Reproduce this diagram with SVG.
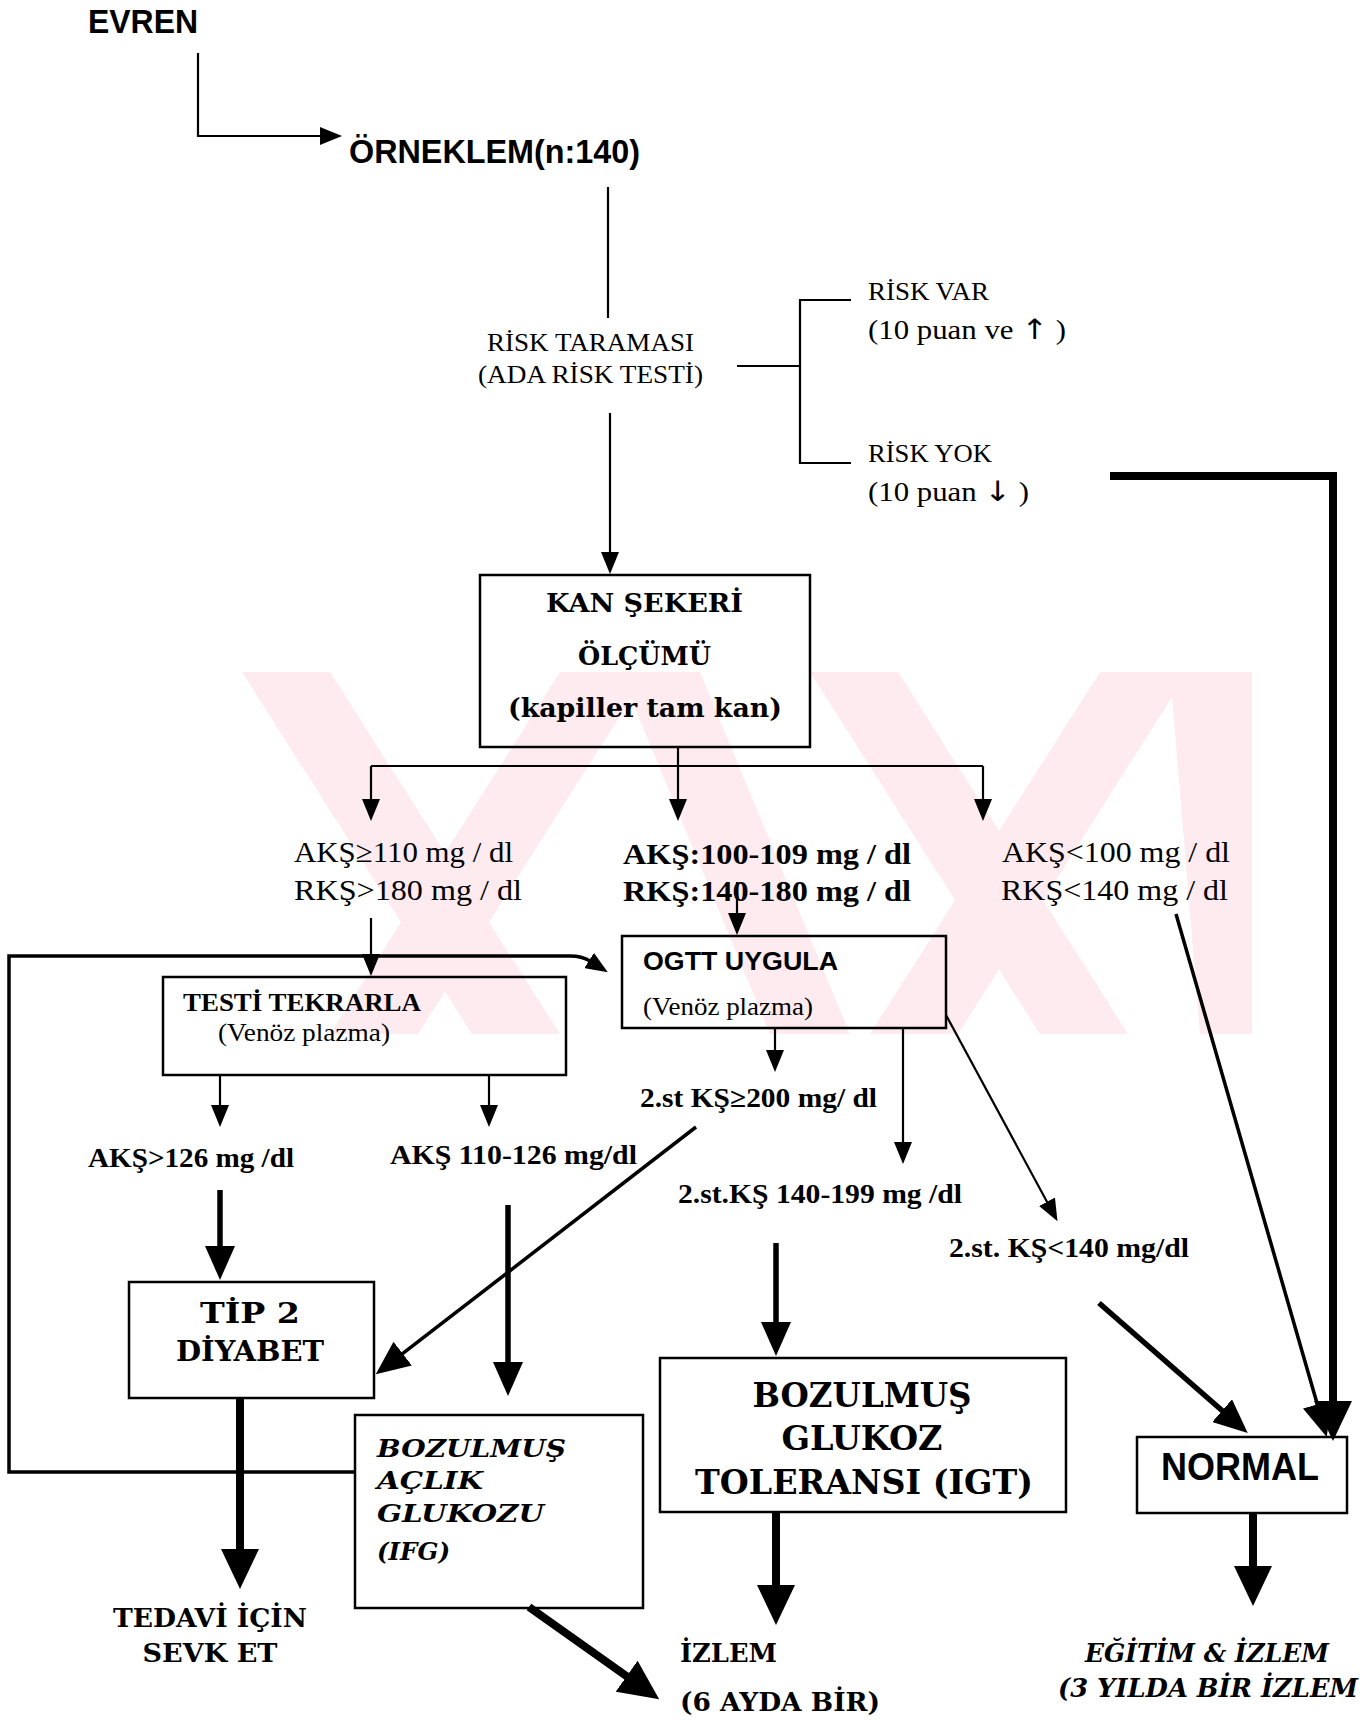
<svg xmlns="http://www.w3.org/2000/svg" width="1369" height="1723" viewBox="0 0 1369 1723">
<style>
.box{fill:none;stroke:#000;stroke-width:2.5}
.ln{fill:none;stroke:#000;stroke-width:2.2}
.lm{fill:none;stroke:#000;stroke-width:3.5}
.lt{fill:none;stroke:#000;stroke-width:5.5}
.lb{fill:none;stroke:#000;stroke-width:8}
text{fill:#000}
.sans{font-family:"Liberation Sans",Arial,sans-serif;font-weight:bold}
.tr{font-family:"Liberation Serif","Times New Roman",serif}
.trb{font-family:"Liberation Serif","Times New Roman",serif;font-weight:bold}
.hv{font-family:"DejaVu Serif",serif;font-weight:bold}
.hvi{font-family:"DejaVu Serif",serif;font-weight:bold;font-style:italic}
.arr{font-family:"DejaVu Sans",sans-serif;font-weight:normal}
.wm{fill:#fdebef}
</style>
<defs>
<marker id="aT" viewBox="0 0 22 18" refX="1" refY="9" markerWidth="22" markerHeight="18" markerUnits="userSpaceOnUse" orient="auto"><path d="M0,0 L22,9 L0,18 z"/></marker>
<marker id="aM" viewBox="0 0 34 30" refX="1" refY="15" markerWidth="34" markerHeight="30" markerUnits="userSpaceOnUse" orient="auto"><path d="M0,0 L34,15 L0,30 z"/></marker>
<marker id="aB" viewBox="0 0 40 38" refX="1" refY="19" markerWidth="40" markerHeight="38" markerUnits="userSpaceOnUse" orient="auto"><path d="M0,0 L40,19 L0,38 z"/></marker>
<clipPath id="wmc"><rect x="242" y="672" width="1010" height="362"/></clipPath>
</defs>
<rect width="1369" height="1723" fill="#fff"/>
<g id="watermark" clip-path="url(#wmc)">
<polygon class="wm" points="242,672 330,672 560,1034 472,1034"/>
<polygon class="wm" points="560,672 648,672 418,1034 330,1034"/>
<polygon class="wm" points="810,672 898,672 1128,1034 1040,1034"/>
<polygon class="wm" points="1100,672 1188,672 958,1034 870,1034"/>
<polygon class="wm" points="620,672 700,672 850,1034 770,1034"/>
<polygon class="wm" points="1170,672 1252,672 1252,1034 1200,1034"/>
</g>
<g id="connectors">
<path class="ln" d="M198,53 V136 H321" marker-end="url(#aT)"/>
<path class="ln" d="M608,187 V318"/>
<path class="ln" d="M610,413 V553" marker-end="url(#aT)"/>
<path class="ln" d="M737,366 H800 M851,300 H800 V463 H851"/>
<path class="ln" d="M678,747 V766 M371,766 H983"/>
<path class="ln" d="M371,766 V800" marker-end="url(#aT)"/>
<path class="ln" d="M678,766 V800" marker-end="url(#aT)"/>
<path class="ln" d="M983,766 V800" marker-end="url(#aT)"/>
<path class="ln" d="M737,882 V914" marker-end="url(#aT)"/>
<path class="ln" d="M371,918 V955" marker-end="url(#aT)"/>
<path class="lm" d="M354,1472 H9 V956 H570 Q582,956 590,961" marker-end="url(#aT)"/>
<path class="ln" d="M220,1075 V1106" marker-end="url(#aT)"/>
<path class="ln" d="M489,1075 V1106" marker-end="url(#aT)"/>
<path class="ln" d="M775,1028 V1051" marker-end="url(#aT)"/>
<path class="ln" d="M903,1028 V1143" marker-end="url(#aT)"/>
<path class="ln" d="M946,1015 L1047.5,1202.7" marker-end="url(#aT)"/>
<path class="lt" d="M220,1190 V1247" marker-end="url(#aM)"/>
<path class="lt" d="M508,1205 V1363" marker-end="url(#aM)"/>
<path class="lm" d="M696,1127 L401.9,1354.2" marker-end="url(#aM)"/>
<path class="lt" d="M776,1243 V1323" marker-end="url(#aM)"/>
<path class="lb" d="M240,1398 V1550" marker-end="url(#aB)"/>
<path class="lb" d="M529,1607 L627.4,1676.8" marker-end="url(#aB)"/>
<path class="lb" d="M776,1512 V1586" marker-end="url(#aB)"/>
<path class="lb" d="M1253,1513 V1567" marker-end="url(#aB)"/>
<path class="lb" d="M1110,476 H1333 V1402" marker-end="url(#aB)"/>
<path class="lm" d="M1176,914 L1317.6,1405.3" marker-end="url(#aM)"/>
<path class="lt" d="M1099,1303 L1222.9,1411.3" marker-end="url(#aM)"/>
</g>
<g id="evren"><text class="sans" x="88" y="33" font-size="34" textLength="110" lengthAdjust="spacingAndGlyphs">EVREN</text></g>
<g id="orneklem"><text class="sans" x="349" y="163" font-size="34" textLength="291" lengthAdjust="spacingAndGlyphs">ÖRNEKLEM(n:140)</text></g>
<g id="risk-taramasi">
<text class="tr" x="487" y="351" font-size="26" textLength="207" lengthAdjust="spacingAndGlyphs">RİSK TARAMASI</text>
<text class="tr" x="478" y="383" font-size="26" textLength="225" lengthAdjust="spacingAndGlyphs">(ADA RİSK TESTİ)</text>
</g>
<g id="risk-var">
<text class="tr" x="868" y="300" font-size="25" textLength="121" lengthAdjust="spacingAndGlyphs">RİSK VAR</text>
<text class="tr" x="868" y="339" font-size="27" textLength="198" lengthAdjust="spacingAndGlyphs">(10 puan ve <tspan class="arr" font-size="28">↑</tspan> )</text>
</g>
<g id="risk-yok">
<text class="tr" x="868" y="462" font-size="25" textLength="124" lengthAdjust="spacingAndGlyphs">RİSK YOK</text>
<text class="tr" x="868" y="501" font-size="27" textLength="161" lengthAdjust="spacingAndGlyphs">(10 puan <tspan class="arr" font-size="28">↓</tspan> )</text>
</g>
<g id="kan-sekeri">
<rect class="box" x="480" y="575" width="330" height="172"/>
<text class="hv" x="546" y="612" font-size="26" textLength="197" lengthAdjust="spacingAndGlyphs">KAN ŞEKERİ</text>
<text class="hv" x="578" y="665" font-size="26" textLength="133" lengthAdjust="spacingAndGlyphs">ÖLÇÜMÜ</text>
<text class="hv" x="508" y="717" font-size="26" textLength="274" lengthAdjust="spacingAndGlyphs">(kapiller tam kan)</text>
</g>
<g id="aks-high">
<text class="tr" x="294" y="862" font-size="30" textLength="219" lengthAdjust="spacingAndGlyphs">AKŞ≥110 mg / dl</text>
<text class="tr" x="294" y="900" font-size="30" textLength="228" lengthAdjust="spacingAndGlyphs">RKŞ&gt;180 mg / dl</text>
</g>
<g id="aks-mid">
<text class="trb" x="623" y="864" font-size="30" textLength="288" lengthAdjust="spacingAndGlyphs">AKŞ:100-109 mg / dl</text>
<text class="trb" x="623" y="901" font-size="30" textLength="288" lengthAdjust="spacingAndGlyphs">RKŞ:140-180 mg / dl</text>
</g>
<g id="aks-low">
<text class="tr" x="1002" y="862" font-size="30" textLength="228" lengthAdjust="spacingAndGlyphs">AKŞ&lt;100 mg / dl</text>
<text class="tr" x="1001" y="900" font-size="30" textLength="227" lengthAdjust="spacingAndGlyphs">RKŞ&lt;140 mg / dl</text>
</g>
<g id="ogtt">
<rect class="box" x="622" y="936" width="324" height="92"/>
<text class="sans" x="643" y="970" font-size="25" textLength="195" lengthAdjust="spacingAndGlyphs">OGTT UYGULA</text>
<text class="tr" x="643" y="1015" font-size="26" textLength="170" lengthAdjust="spacingAndGlyphs">(Venöz plazma)</text>
</g>
<g id="testi-tekrarla">
<rect class="box" x="163" y="977" width="403" height="98"/>
<text class="trb" x="183" y="1011" font-size="25" textLength="238" lengthAdjust="spacingAndGlyphs">TESTİ TEKRARLA</text>
<text class="tr" x="218" y="1041" font-size="25" textLength="172" lengthAdjust="spacingAndGlyphs">(Venöz plazma)</text>
</g>
<g id="aks-126"><text class="trb" x="88" y="1167" font-size="27" textLength="206" lengthAdjust="spacingAndGlyphs">AKŞ&gt;126 mg /dl</text></g>
<g id="aks-110-126"><text class="trb" x="390" y="1164" font-size="27" textLength="247" lengthAdjust="spacingAndGlyphs">AKŞ 110-126 mg/dl</text></g>
<g id="st-200"><text class="trb" x="640" y="1107" font-size="27" textLength="237" lengthAdjust="spacingAndGlyphs">2.st KŞ≥200 mg/ dl</text></g>
<g id="st-140-199"><text class="trb" x="678" y="1203" font-size="27" textLength="284" lengthAdjust="spacingAndGlyphs">2.st.KŞ 140-199 mg /dl</text></g>
<g id="st-140"><text class="trb" x="949" y="1257" font-size="27" textLength="240" lengthAdjust="spacingAndGlyphs">2.st. KŞ&lt;140 mg/dl</text></g>
<g id="tip2">
<rect class="box" x="129" y="1282" width="245" height="116"/>
<text class="hv" x="250" y="1323" font-size="28" text-anchor="middle" textLength="100" lengthAdjust="spacingAndGlyphs">TİP 2</text>
<text class="hv" x="250" y="1361" font-size="28" text-anchor="middle" textLength="148" lengthAdjust="spacingAndGlyphs">DİYABET</text>
</g>
<g id="ifg">
<rect class="box" x="355" y="1415" width="288" height="193"/>
<text class="hvi" x="377" y="1457" font-size="25" textLength="189" lengthAdjust="spacingAndGlyphs">BOZULMUŞ</text>
<text class="hvi" x="377" y="1489" font-size="25" textLength="106" lengthAdjust="spacingAndGlyphs">AÇLIK</text>
<text class="hvi" x="377" y="1522" font-size="25" textLength="167" lengthAdjust="spacingAndGlyphs">GLUKOZU</text>
<text class="hvi" x="377" y="1560" font-size="25" textLength="73" lengthAdjust="spacingAndGlyphs">(IFG)</text>
</g>
<g id="tedavi">
<text class="hv" x="210" y="1627" font-size="26" text-anchor="middle" textLength="194" lengthAdjust="spacingAndGlyphs">TEDAVİ İÇİN</text>
<text class="hv" x="210" y="1662" font-size="26" text-anchor="middle" textLength="135" lengthAdjust="spacingAndGlyphs">SEVK ET</text>
</g>
<g id="igt">
<rect class="box" x="660" y="1358" width="406" height="154"/>
<text class="hv" x="862" y="1407" font-size="33" text-anchor="middle" textLength="219" lengthAdjust="spacingAndGlyphs">BOZULMUŞ</text>
<text class="hv" x="862" y="1450" font-size="33" text-anchor="middle" textLength="161" lengthAdjust="spacingAndGlyphs">GLUKOZ</text>
<text class="hv" x="864" y="1494" font-size="33" text-anchor="middle" textLength="338" lengthAdjust="spacingAndGlyphs">TOLERANSI (IGT)</text>
</g>
<g id="normal">
<rect class="box" x="1137" y="1437" width="210" height="76"/>
<text class="sans" x="1161" y="1480" font-size="38" textLength="158" lengthAdjust="spacingAndGlyphs">NORMAL</text>
</g>
<g id="izlem">
<text class="hv" x="680" y="1662" font-size="26" textLength="97" lengthAdjust="spacingAndGlyphs">İZLEM</text>
<text class="hv" x="680" y="1711" font-size="26" textLength="200" lengthAdjust="spacingAndGlyphs">(6 AYDA BİR)</text>
</g>
<g id="egitim">
<text class="hvi" x="1085" y="1662" font-size="26" textLength="244" lengthAdjust="spacingAndGlyphs">EĞİTİM &amp; İZLEM</text>
<text class="hvi" x="1058" y="1697" font-size="26" textLength="300" lengthAdjust="spacingAndGlyphs">(3 YILDA BİR İZLEM</text>
</g>
</svg>
